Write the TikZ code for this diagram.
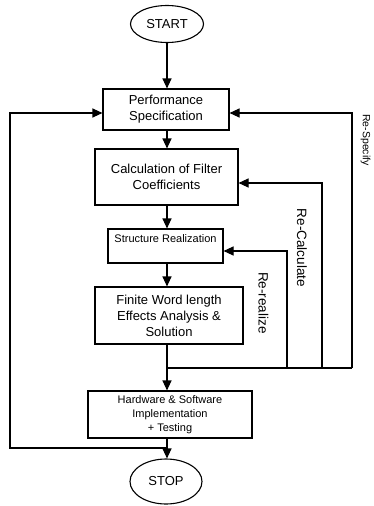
\documentclass[tikz,border=0pt]{standalone}
\usepackage{fontspec}
\setmainfont{Liberation Sans}
\usetikzlibrary{shapes.geometric, arrows.meta}
\usetikzlibrary{positioning}

\tikzstyle{terminal} = [draw, ellipse, minimum width=73pt, minimum height=37pt, inner sep=0pt, font=\fontsize{13}{15}\selectfont]
\tikzstyle{process} = [draw, rectangle, align=center, inner sep=0pt, font=\fontsize{13}{16}\selectfont]
\tikzstyle{small} = [font=\fontsize{11}{14}\selectfont]
\tikzstyle{arr} = [-{Triangle[length=10pt,width=9pt]}]
\tikzstyle{back} = [font=\fontsize{13.5}{15}\selectfont, rotate=-90, inner sep=0pt]

\begin{document}
\begin{tikzpicture}[x=1pt, y=-1pt, line width=1.1pt]
  \useasboundingbox (0,0) rectangle (373,506);

  \node[terminal] (start) at (167,24) {START};
  \node[process, minimum width=126pt, minimum height=41pt] (perf) at (166,109.5) {Performance\\Specification};
  \node[process, minimum width=143pt, minimum height=56pt] (calc) at (166.5,177) {Calculation of Filter\\Coefficients};
  \node[process, small, minimum width=115pt, minimum height=34pt] (struct) at (165.5,246) {Structure Realization\\\mbox{}};
  \node[process, minimum width=148pt, minimum height=57pt] (finite) at (169,315.5) {Finite Word length\\Effects Analysis \&\\Solution};
  \node[process, small, minimum width=164pt, minimum height=47pt] (hw) at (170,414.5) {Hardware \& Software\\Implementation\\+ Testing};
  \node[terminal, minimum width=72pt, minimum height=45pt] (stop) at (166,481.5) {STOP};

  \coordinate (j1) at (167,368);
  \coordinate (j2) at (167,448);
  \coordinate (c1) at (287,368);
  \coordinate (c2) at (322,368);
  \coordinate (c3) at (352,368);
  \coordinate (c4) at (10,448);

  % main flow
  \draw[arr] (start.south -| j1) -- (perf.north -| j1);
  \draw[arr] (perf.south -| j1) -- (calc.north -| j1);
  \draw[arr] (calc.south -| j1) -- (struct.north -| j1);
  \draw[arr] (struct.south -| j1) -- (finite.north -| j1);
  \draw (finite.south -| j1) -- (j1);
  \draw[arr] (j1) -- (hw.north -| j1);
  \draw (hw.south -| j2) -- (j2);
  \draw[arr] (j2) -- (stop.north -| j2);

  % feedback loops
  \draw (j1) -- (c3);
  \draw[arr] (c1) |- ([yshift=-5pt]struct.east);
  \draw[arr] (c2) |- ([yshift=-6pt]calc.east);
  \draw[arr] (c3) |- ([yshift=-3.5pt]perf.east);
  \draw[arr] (j2) -- (c4) |- ([yshift=-3.5pt]perf.west);

  \node[back] (lre) at (263.5,303) {Re-realize};
  \node[back] (lrc) at (302,248) {Re-Calculate};
  \node[back, font=\fontsize{10.5}{12}\selectfont] (lrs) at (365.5,140) {Re-Specify};
\end{tikzpicture}
\end{document}
